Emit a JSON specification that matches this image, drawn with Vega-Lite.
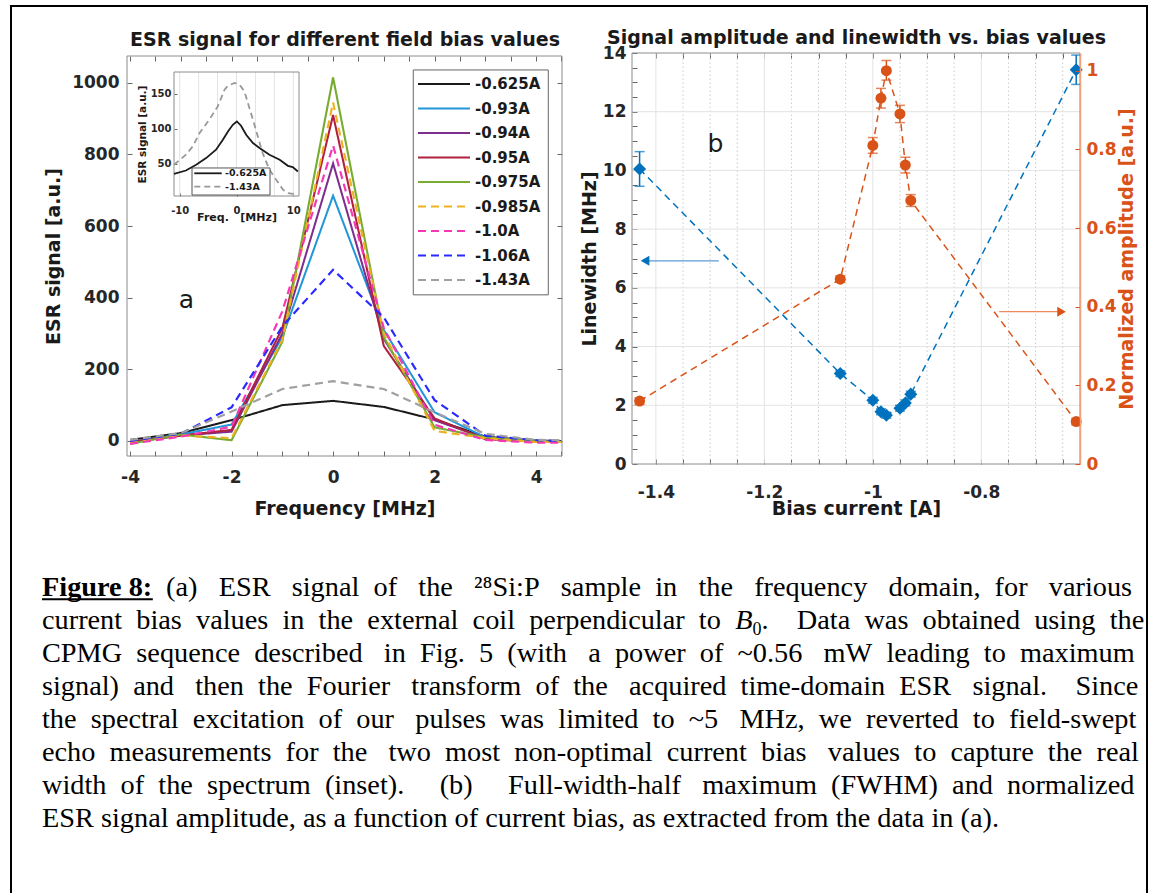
{
  "$schema": "https://vega.github.io/schema/vega-lite/v6.json",
  "width": 1151,
  "height": 893,
  "autosize": {"type": "none"},
  "padding": 0,
  "background": "white",
  "config": {
    "view": {"stroke": null},
    "axis": {
      "labelFont": "DejaVu Sans", "labelFontWeight": "bold", "labelFontSize": 17, "labelColor": "#262626",
      "titleFont": "DejaVu Sans", "titleFontWeight": "bold", "titleFontSize": 19, "titleColor": "#1a1a1a",
      "domain": false, "tickColor": "#666666", "tickSize": -5, "tickWidth": 1, "grid": false,
      "labelOverlap": false, "labelFlush": false, "labelBound": false
    }
  },
  "datasets": {
    "pb": [
      {"b": -1.43, "lw": 10.05, "lwlo": 9.46, "lwhi": 10.64, "amp": 0.16, "alo": 0.152, "ahi": 0.168},
      {"b": -1.06, "lw": 3.08, "lwlo": 2.98, "lwhi": 3.18, "amp": 0.47, "alo": 0.462, "ahi": 0.478},
      {"b": -1.0, "lw": 2.17, "lwlo": 2.07, "lwhi": 2.27, "amp": 0.81, "alo": 0.79, "ahi": 0.83},
      {"b": -0.985, "lw": 1.78, "lwlo": 1.68, "lwhi": 1.88, "amp": 0.93, "alo": 0.905, "ahi": 0.955},
      {"b": -0.975, "lw": 1.66, "lwlo": 1.56, "lwhi": 1.76, "amp": 1.0, "alo": 0.976, "ahi": 1.026},
      {"b": -0.95, "lw": 1.9, "lwlo": 1.8, "lwhi": 2.0, "amp": 0.89, "alo": 0.868, "ahi": 0.912},
      {"b": -0.94, "lw": 2.08, "lwlo": 1.98, "lwhi": 2.18, "amp": 0.76, "alo": 0.74, "ahi": 0.78},
      {"b": -0.93, "lw": 2.38, "lwlo": 2.28, "lwhi": 2.48, "amp": 0.67, "alo": 0.655, "ahi": 0.685},
      {"b": -0.625, "lw": 13.43, "lwlo": 12.93, "lwhi": 13.93, "amp": 0.108, "alo": 0.1, "ahi": 0.116}
    ],
    "one": [{}]
  },
  "resolve": {"scale": {"x": "independent", "y": "independent"}},
  "layer": [
    {
      "data": {"name": "one"},
      "mark": {"type": "rect", "filled": false, "stroke": "black", "strokeWidth": 2},
      "encoding": {
        "x": {"datum": 0, "type": "quantitative", "scale": {"domain": [0, 1], "range": [11, 1147]}, "axis": null},
        "x2": {"datum": 1},
        "y": {"datum": 0, "type": "quantitative", "scale": {"domain": [0, 1], "range": [6, 905]}, "axis": null},
        "y2": {"datum": 1}
      }
    },
    {
      "resolve": {"axis": {"x": "independent", "y": "independent"}},
      "layer": [
        {
          "data": {"values": [
            {"f": -4, "v": 3, "s": "-0.625A"}, {"f": -3, "v": 22, "s": "-0.625A"}, {"f": -2, "v": 58, "s": "-0.625A"}, {"f": -1, "v": 100, "s": "-0.625A"}, {"f": 0, "v": 112, "s": "-0.625A"}, {"f": 1, "v": 95, "s": "-0.625A"}, {"f": 2, "v": 60, "s": "-0.625A"}, {"f": 3, "v": 12, "s": "-0.625A"}, {"f": 4, "v": 1, "s": "-0.625A"}, {"f": 4.5, "v": 0, "s": "-0.625A"},
            {"f": -4, "v": -3, "s": "-0.93A"}, {"f": -3, "v": 18, "s": "-0.93A"}, {"f": -2, "v": 46, "s": "-0.93A"}, {"f": -1, "v": 290, "s": "-0.93A"}, {"f": 0, "v": 685, "s": "-0.93A"}, {"f": 1, "v": 310, "s": "-0.93A"}, {"f": 2, "v": 80, "s": "-0.93A"}, {"f": 3, "v": 10, "s": "-0.93A"}, {"f": 4, "v": 0, "s": "-0.93A"}, {"f": 4.5, "v": -2, "s": "-0.93A"},
            {"f": -4, "v": -3, "s": "-0.94A"}, {"f": -3, "v": 15, "s": "-0.94A"}, {"f": -2, "v": 26, "s": "-0.94A"}, {"f": -1, "v": 300, "s": "-0.94A"}, {"f": 0, "v": 775, "s": "-0.94A"}, {"f": 1, "v": 285, "s": "-0.94A"}, {"f": 2, "v": 58, "s": "-0.94A"}, {"f": 3, "v": 8, "s": "-0.94A"}, {"f": 4, "v": -2, "s": "-0.94A"}, {"f": 4.5, "v": -3, "s": "-0.94A"},
            {"f": -4, "v": -3, "s": "-0.95A"}, {"f": -3, "v": 15, "s": "-0.95A"}, {"f": -2, "v": 31, "s": "-0.95A"}, {"f": -1, "v": 315, "s": "-0.95A"}, {"f": 0, "v": 910, "s": "-0.95A"}, {"f": 1, "v": 265, "s": "-0.95A"}, {"f": 2, "v": 63, "s": "-0.95A"}, {"f": 3, "v": 5, "s": "-0.95A"}, {"f": 4, "v": -2, "s": "-0.95A"}, {"f": 4.5, "v": -3, "s": "-0.95A"},
            {"f": -4, "v": -8, "s": "-0.975A"}, {"f": -3, "v": 18, "s": "-0.975A"}, {"f": -2, "v": 2, "s": "-0.975A"}, {"f": -1, "v": 277, "s": "-0.975A"}, {"f": 0, "v": 1015, "s": "-0.975A"}, {"f": 1, "v": 290, "s": "-0.975A"}, {"f": 2, "v": 38, "s": "-0.975A"}, {"f": 3, "v": 10, "s": "-0.975A"}, {"f": 4, "v": -2, "s": "-0.975A"}, {"f": 4.5, "v": -3, "s": "-0.975A"},
            {"f": -4, "v": -5, "s": "-0.985A"}, {"f": -3, "v": 15, "s": "-0.985A"}, {"f": -2, "v": 8, "s": "-0.985A"}, {"f": -1, "v": 282, "s": "-0.985A"}, {"f": 0, "v": 945, "s": "-0.985A"}, {"f": 1, "v": 300, "s": "-0.985A"}, {"f": 2, "v": 28, "s": "-0.985A"}, {"f": 3, "v": 8, "s": "-0.985A"}, {"f": 4, "v": -3, "s": "-0.985A"}, {"f": 4.5, "v": -3, "s": "-0.985A"},
            {"f": -4, "v": -8, "s": "-1.0A"}, {"f": -3, "v": 12, "s": "-1.0A"}, {"f": -2, "v": 40, "s": "-1.0A"}, {"f": -1, "v": 362, "s": "-1.0A"}, {"f": 0, "v": 825, "s": "-1.0A"}, {"f": 1, "v": 315, "s": "-1.0A"}, {"f": 2, "v": 45, "s": "-1.0A"}, {"f": 3, "v": 3, "s": "-1.0A"}, {"f": 4, "v": -5, "s": "-1.0A"}, {"f": 4.5, "v": -5, "s": "-1.0A"},
            {"f": -4, "v": 0, "s": "-1.06A"}, {"f": -3, "v": 20, "s": "-1.06A"}, {"f": -2, "v": 94, "s": "-1.06A"}, {"f": -1, "v": 320, "s": "-1.06A"}, {"f": 0, "v": 478, "s": "-1.06A"}, {"f": 1, "v": 345, "s": "-1.06A"}, {"f": 2, "v": 114, "s": "-1.06A"}, {"f": 3, "v": 15, "s": "-1.06A"}, {"f": 4, "v": 2, "s": "-1.06A"}, {"f": 4.5, "v": 0, "s": "-1.06A"},
            {"f": -4, "v": 3, "s": "-1.43A"}, {"f": -3, "v": 22, "s": "-1.43A"}, {"f": -2, "v": 82, "s": "-1.43A"}, {"f": -1, "v": 145, "s": "-1.43A"}, {"f": 0, "v": 167, "s": "-1.43A"}, {"f": 1, "v": 145, "s": "-1.43A"}, {"f": 2, "v": 80, "s": "-1.43A"}, {"f": 3, "v": 20, "s": "-1.43A"}, {"f": 4, "v": 3, "s": "-1.43A"}, {"f": 4.5, "v": 2, "s": "-1.43A"}
          ]},
          "mark": {"type": "line"},
          "encoding": {
            "x": {"field": "f", "type": "quantitative",
              "scale": {"domain": [-4.06, 4.51], "range": [127, 562], "nice": false, "zero": false},
              "axis": {"orient": "bottom", "offset": -437, "values": [-4, -3.5, -3, -2.5, -2, -1.5, -1, -0.5, 0, 0.5, 1, 1.5, 2, 2.5, 3, 3.5, 4, 4.5],
                "labelExpr": "datum.value % 2 == 0 ? (datum.value < 0 ? '-' + abs(datum.value) : '' + datum.value) : ''",
                "labelPadding": 18, "title": "Frequency [MHz]", "titlePadding": 14}},
            "y": {"field": "v", "type": "quantitative",
              "scale": {"domain": [-42, 1075], "range": [456, 56], "nice": false, "zero": false},
              "axis": {"orient": "left", "offset": -127, "values": [0, 200, 400, 600, 800, 1000], "labelExpr": "'' + datum.value",
                "labelPadding": 13, "title": "ESR signal [a.u.]", "titlePadding": 8}},
            "color": {"field": "s", "type": "nominal", "legend": null,
              "scale": {"domain": ["-0.625A", "-0.93A", "-0.94A", "-0.95A", "-0.975A", "-0.985A", "-1.0A", "-1.06A", "-1.43A"],
                "range": ["#1a1a1a", "#2196d8", "#7e2f8e", "#b0213f", "#77ac30", "#edb120", "#f536b5", "#2a2aff", "#a0a0a0"]}},
            "strokeDash": {"field": "s", "type": "nominal", "legend": null,
              "scale": {"domain": ["-0.625A", "-0.93A", "-0.94A", "-0.95A", "-0.975A", "-0.985A", "-1.0A", "-1.06A", "-1.43A"],
                "range": [[1, 0], [1, 0], [1, 0], [1, 0], [1, 0], [8, 5], [8, 5], [8, 5], [8, 5]]}},
            "strokeWidth": {"field": "s", "type": "nominal", "legend": null,
              "scale": {"domain": ["-0.625A", "-0.93A", "-0.94A", "-0.95A", "-0.975A", "-0.985A", "-1.0A", "-1.06A", "-1.43A"],
                "range": [2, 2.2, 1.8, 2.2, 4, 2.2, 2.2, 2.2, 2.2]}}
          }
        },
        {
          "data": {"name": "one"},
          "mark": {"type": "rect", "filled": false, "stroke": "#8c8c8c", "strokeWidth": 1},
          "encoding": {
            "x": {"datum": -4.06, "type": "quantitative",
              "axis": {"orient": "top", "offset": -56, "values": [-4, -3.5, -3, -2.5, -2, -1.5, -1, -0.5, 0, 0.5, 1, 1.5, 2, 2.5, 3, 3.5, 4, 4.5],
                "labels": false, "title": "ESR signal for different field bias values", "titlePadding": 6}},
            "x2": {"datum": 4.51},
            "y": {"datum": -42, "type": "quantitative",
              "axis": {"orient": "right", "offset": -589, "values": [0, 200, 400, 600, 800, 1000], "labels": false, "title": null}},
            "y2": {"datum": 1075}
          }
        },
        {
          "data": {"name": "one"},
          "mark": {"type": "rect", "fill": "white", "stroke": "#666666", "strokeWidth": 1},
          "encoding": {
            "x": {"datum": 1.58, "type": "quantitative", "axis": null},
            "x2": {"datum": 4.24},
            "y": {"datum": 408, "type": "quantitative", "axis": null},
            "y2": {"datum": 1036}
          }
        },
        {
          "data": {"name": "one"},
          "mark": {"type": "text", "text": "a", "font": "DejaVu Sans", "fontSize": 25, "color": "#1a1a1a", "baseline": "middle", "align": "center"},
          "encoding": {
            "x": {"datum": -2.89, "type": "quantitative", "axis": null},
            "y": {"datum": 394, "type": "quantitative", "axis": null}
          }
        }
      ]
    },
    {
      "resolve": {"axis": {"x": "independent", "y": "independent"}},
      "layer": [
        {
          "data": {"values": [{"g": -10}, {"g": -6.667}, {"g": -3.333}, {"g": 0}, {"g": 3.333}, {"g": 6.667}, {"g": 10}]},
          "mark": {"type": "rule", "color": "#e3e3e3", "strokeWidth": 1},
          "encoding": {
            "x": {"field": "g", "type": "quantitative",
              "scale": {"domain": [-11, 11], "range": [174, 299], "nice": false, "zero": false},
              "axis": {"orient": "bottom", "offset": -697, "values": [-10, 0, 10],
                "labelExpr": "datum.value < 0 ? '-' + abs(datum.value) : '' + datum.value",
                "labelFontSize": 10, "tickSize": -3, "labelPadding": 12,
                "title": "Freq.\u00a0\u00a0\u00a0[MHz]", "titleFontSize": 11, "titlePadding": -4}},
            "y": {"datum": 4, "type": "quantitative",
              "scale": {"domain": [4, 181], "range": [196, 72], "nice": false, "zero": false},
              "axis": {"orient": "left", "offset": -174, "values": [50, 100, 150], "labelExpr": "'' + datum.value",
                "labelFontSize": 10, "tickSize": -3, "labelPadding": 6,
                "title": "ESR signal [a.u.]", "titleFontSize": 10.5, "titlePadding": 3}},
            "y2": {"datum": 181}
          }
        },
        {
          "data": {"name": "one"},
          "mark": {"type": "rect", "filled": false, "stroke": "#8c8c8c", "strokeWidth": 1},
          "encoding": {
            "x": {"datum": -11, "type": "quantitative", "axis": null},
            "x2": {"datum": 11},
            "y": {"datum": 4, "type": "quantitative", "axis": null},
            "y2": {"datum": 181}
          }
        },
        {
          "data": {"values": [
            {"x": -11, "y": 35.7}, {"x": -8.9, "y": 40.4}, {"x": -7.1, "y": 48.6}, {"x": -5.35, "y": 58.1}, {"x": -3.6, "y": 70}, {"x": -2.4, "y": 84.3}, {"x": -1.5, "y": 96.2}, {"x": -0.65, "y": 105.7}, {"x": 0.06, "y": 110.4}, {"x": 0.8, "y": 104.3}, {"x": 1.7, "y": 91.4}, {"x": 2.9, "y": 79.6}, {"x": 4.05, "y": 72.4}, {"x": 5.8, "y": 62.9}, {"x": 7.6, "y": 55.7}, {"x": 9.05, "y": 47.1}, {"x": 9.9, "y": 45.2}, {"x": 10.8, "y": 39}
          ]},
          "mark": {"type": "line", "color": "#1a1a1a", "strokeWidth": 1.8},
          "encoding": {
            "x": {"field": "x", "type": "quantitative", "axis": null},
            "y": {"field": "y", "type": "quantitative", "axis": null}
          }
        },
        {
          "data": {"values": [
            {"x": -11, "y": 48.6}, {"x": -8.9, "y": 62.9}, {"x": -7.7, "y": 74.8}, {"x": -6.5, "y": 93.8}, {"x": -4.8, "y": 112.9}, {"x": -3.3, "y": 131.9}, {"x": -2.1, "y": 155.7}, {"x": -1.5, "y": 161.4}, {"x": -0.35, "y": 165.3}, {"x": 0.53, "y": 162.9}, {"x": 1.4, "y": 153.3}, {"x": 2.0, "y": 136.7}, {"x": 2.9, "y": 112.9}, {"x": 3.75, "y": 89}, {"x": 4.6, "y": 65.3}, {"x": 5.8, "y": 41.4}, {"x": 7.0, "y": 27}, {"x": 8.2, "y": 12.9}, {"x": 9.05, "y": 8}, {"x": 9.9, "y": 7}, {"x": 10.6, "y": 8}
          ]},
          "mark": {"type": "line", "color": "#999999", "strokeWidth": 1.8, "strokeDash": [6, 4]},
          "encoding": {
            "x": {"field": "x", "type": "quantitative", "axis": null},
            "y": {"field": "y", "type": "quantitative", "axis": null}
          }
        },
        {
          "data": {"name": "one"},
          "mark": {"type": "rect", "fill": "white", "stroke": "#555555", "strokeWidth": 1},
          "encoding": {
            "x": {"datum": -7.83, "type": "quantitative", "axis": null},
            "x2": {"datum": 5.9},
            "y": {"datum": 5.4, "type": "quantitative", "axis": null},
            "y2": {"datum": 44}
          }
        },
        {
          "data": {"name": "one"},
          "mark": {"type": "rule", "color": "#1a1a1a", "strokeWidth": 1.8},
          "encoding": {
            "x": {"datum": -7.43, "type": "quantitative", "axis": null},
            "x2": {"datum": -2.6},
            "y": {"datum": 36.4, "type": "quantitative", "axis": null}
          }
        },
        {
          "data": {"name": "one"},
          "mark": {"type": "rule", "color": "#999999", "strokeWidth": 1.8, "strokeDash": [6, 4]},
          "encoding": {
            "x": {"datum": -7.43, "type": "quantitative", "axis": null},
            "x2": {"datum": -2.6},
            "y": {"datum": 17.3, "type": "quantitative", "axis": null}
          }
        },
        {
          "data": {"name": "one"},
          "mark": {"type": "text", "text": "-0.625A", "align": "left", "baseline": "middle", "font": "DejaVu Sans", "fontWeight": "bold", "fontSize": 9.5, "color": "#1a1a1a"},
          "encoding": {
            "x": {"datum": -2.02, "type": "quantitative", "axis": null},
            "y": {"datum": 36.4, "type": "quantitative", "axis": null}
          }
        },
        {
          "data": {"name": "one"},
          "mark": {"type": "text", "text": "-1.43A", "align": "left", "baseline": "middle", "font": "DejaVu Sans", "fontWeight": "bold", "fontSize": 9.5, "color": "#1a1a1a"},
          "encoding": {
            "x": {"datum": -2.02, "type": "quantitative", "axis": null},
            "y": {"datum": 17.3, "type": "quantitative", "axis": null}
          }
        }
      ]
    },
    {
      "data": {"values": [{"s": "-0.625A"}, {"s": "-0.93A"}, {"s": "-0.94A"}, {"s": "-0.95A"}, {"s": "-0.975A"}, {"s": "-0.985A"}, {"s": "-1.0A"}, {"s": "-1.06A"}, {"s": "-1.43A"}]},
      "layer": [
        {
          "mark": {"type": "rule"},
          "encoding": {
            "x": {"datum": 0, "type": "quantitative", "scale": {"domain": [0, 1], "range": [418, 470]}, "axis": null},
            "x2": {"datum": 1},
            "y": {"field": "s", "type": "nominal", "axis": null,
              "scale": {"type": "point", "domain": ["-0.625A", "-0.93A", "-0.94A", "-0.95A", "-0.975A", "-0.985A", "-1.0A", "-1.06A", "-1.43A"], "range": [84, 280], "padding": 0}},
            "color": {"field": "s", "type": "nominal", "legend": null,
              "scale": {"domain": ["-0.625A", "-0.93A", "-0.94A", "-0.95A", "-0.975A", "-0.985A", "-1.0A", "-1.06A", "-1.43A"],
                "range": ["#1a1a1a", "#2196d8", "#7e2f8e", "#b0213f", "#77ac30", "#edb120", "#f536b5", "#2a2aff", "#a0a0a0"]}},
            "strokeDash": {"field": "s", "type": "nominal", "legend": null,
              "scale": {"domain": ["-0.625A", "-0.93A", "-0.94A", "-0.95A", "-0.975A", "-0.985A", "-1.0A", "-1.06A", "-1.43A"],
                "range": [[1, 0], [1, 0], [1, 0], [1, 0], [1, 0], [8, 5], [8, 5], [8, 5], [8, 5]]}},
            "strokeWidth": {"field": "s", "type": "nominal", "legend": null,
              "scale": {"domain": ["-0.625A", "-0.93A", "-0.94A", "-0.95A", "-0.975A", "-0.985A", "-1.0A", "-1.06A", "-1.43A"],
                "range": [2, 2.2, 1.8, 2.2, 4, 2.2, 2.2, 2.2, 2.2]}}
          }
        },
        {
          "mark": {"type": "text", "align": "left", "baseline": "middle", "dx": 5, "font": "DejaVu Sans", "fontWeight": "bold", "fontSize": 15, "color": "#1a1a1a"},
          "encoding": {
            "x": {"datum": 1, "type": "quantitative", "axis": null},
            "y": {"field": "s", "type": "nominal", "axis": null},
            "text": {"field": "s", "type": "nominal"}
          }
        }
      ]
    },
    {
      "resolve": {"scale": {"y": "independent"}, "axis": {"x": "independent", "y": "independent"}},
      "layer": [
        {
          "data": {"values": [{"g": -1.35}, {"g": -1.3}, {"g": -1.25}, {"g": -1.15}, {"g": -1.1}, {"g": -1.05}, {"g": -0.95}, {"g": -0.9}, {"g": -0.85}, {"g": -0.75}, {"g": -0.7}, {"g": -0.65}]},
          "mark": {"type": "rule", "color": "#cccccc", "strokeWidth": 1, "strokeDash": [1.5, 2.5]},
          "encoding": {
            "x": {"field": "g", "type": "quantitative", "scale": {"domain": [-1.444, -0.618], "range": [632, 1080], "nice": false, "zero": false}, "axis": null},
            "y": {"datum": 0, "type": "quantitative", "scale": {"domain": [0, 14], "range": [464, 53], "nice": false, "zero": false}, "axis": null},
            "y2": {"datum": 14}
          }
        },
        {
          "data": {"values": [{"g": -1.4}, {"g": -1.2}, {"g": -1}, {"g": -0.8}]},
          "mark": {"type": "rule", "color": "#e3e3e3", "strokeWidth": 1},
          "encoding": {
            "x": {"field": "g", "type": "quantitative", "axis": null},
            "y": {"datum": 0, "type": "quantitative", "scale": {"domain": [0, 14], "range": [464, 53], "nice": false, "zero": false}, "axis": null},
            "y2": {"datum": 14}
          }
        },
        {
          "data": {"values": [{"h": 2}, {"h": 4}, {"h": 6}, {"h": 8}, {"h": 10}, {"h": 12}]},
          "mark": {"type": "rule", "color": "#e3e3e3", "strokeWidth": 1},
          "encoding": {
            "y": {"field": "h", "type": "quantitative", "scale": {"domain": [0, 14], "range": [464, 53], "nice": false, "zero": false}, "axis": null},
            "x": {"datum": -1.444, "type": "quantitative", "axis": null},
            "x2": {"datum": -0.618}
          }
        },
        {
          "data": {"name": "one"},
          "mark": {"type": "rect", "filled": false, "stroke": "#8c8c8c", "strokeWidth": 1},
          "encoding": {
            "x": {"datum": -1.444, "type": "quantitative",
              "axis": {"orient": "top", "offset": -53, "values": [-1.4, -1.35, -1.3, -1.25, -1.2, -1.15, -1.1, -1.05, -1, -0.95, -0.9, -0.85, -0.8, -0.75, -0.7, -0.65],
                "labels": false, "title": "Signal amplitude and linewidth vs. bias values", "titlePadding": 5}},
            "x2": {"datum": -0.618},
            "y": {"datum": 0, "type": "quantitative", "scale": {"domain": [0, 14], "range": [464, 53], "nice": false, "zero": false},
              "axis": {"orient": "left", "offset": -632, "values": [0, 0.5, 1, 1.5, 2, 2.5, 3, 3.5, 4, 4.5, 5, 5.5, 6, 6.5, 7, 7.5, 8, 8.5, 9, 9.5, 10, 10.5, 11, 11.5, 12, 12.5, 13, 13.5, 14],
                "labelExpr": "datum.value % 2 == 0 ? '' + datum.value : ''", "labelPadding": 11, "title": "Linewidth [MHz]", "titlePadding": 3}},
            "y2": {"datum": 14}
          }
        },
        {
          "data": {"name": "pb"},
          "mark": {"type": "line", "color": "#0072bd", "strokeWidth": 1.5, "strokeDash": [7, 5]},
          "encoding": {
            "x": {"field": "b", "type": "quantitative",
              "axis": {"orient": "bottom", "offset": -429, "values": [-1.4, -1.35, -1.3, -1.25, -1.2, -1.15, -1.1, -1.05, -1, -0.95, -0.9, -0.85, -0.8, -0.75, -0.7, -0.65],
                "labelExpr": "abs(datum.value + 1.4) < 0.001 ? '-1.4' : abs(datum.value + 1.2) < 0.001 ? '-1.2' : abs(datum.value + 1) < 0.001 ? '-1' : abs(datum.value + 0.8) < 0.001 ? '-0.8' : ''",
                "labelPadding": 25, "title": "Bias current [A]", "titlePadding": -1}},
            "y": {"field": "lw", "type": "quantitative", "scale": {"domain": [0, 14], "range": [464, 53], "nice": false, "zero": false}, "axis": null}
          }
        },
        {
          "data": {"name": "pb"},
          "mark": {"type": "rule", "color": "#0072bd", "strokeWidth": 1.5},
          "encoding": {
            "x": {"field": "b", "type": "quantitative", "axis": null},
            "y": {"field": "lwlo", "type": "quantitative", "scale": {"domain": [0, 14], "range": [464, 53], "nice": false, "zero": false}, "axis": null},
            "y2": {"field": "lwhi"}
          }
        },
        {
          "data": {"name": "pb"},
          "mark": {"type": "tick", "orient": "horizontal", "color": "#0072bd", "size": 10, "thickness": 1.5},
          "encoding": {
            "x": {"field": "b", "type": "quantitative", "axis": null},
            "y": {"field": "lwlo", "type": "quantitative", "scale": {"domain": [0, 14], "range": [464, 53], "nice": false, "zero": false}, "axis": null}
          }
        },
        {
          "data": {"name": "pb"},
          "mark": {"type": "tick", "orient": "horizontal", "color": "#0072bd", "size": 10, "thickness": 1.5},
          "encoding": {
            "x": {"field": "b", "type": "quantitative", "axis": null},
            "y": {"field": "lwhi", "type": "quantitative", "scale": {"domain": [0, 14], "range": [464, 53], "nice": false, "zero": false}, "axis": null}
          }
        },
        {
          "data": {"name": "pb"},
          "mark": {"type": "point", "shape": "diamond", "filled": true, "color": "#0072bd", "size": 170, "opacity": 1},
          "encoding": {
            "x": {"field": "b", "type": "quantitative", "axis": null},
            "y": {"field": "lw", "type": "quantitative", "scale": {"domain": [0, 14], "range": [464, 53], "nice": false, "zero": false}, "axis": null}
          }
        },
        {
          "data": {"name": "pb"},
          "mark": {"type": "line", "color": "#d95319", "strokeWidth": 1.5, "strokeDash": [7, 5]},
          "encoding": {
            "x": {"field": "b", "type": "quantitative", "axis": null},
            "y": {"field": "amp", "type": "quantitative", "scale": {"domain": [0, 1.045], "range": [464, 53], "nice": false, "zero": false},
              "axis": {"orient": "right", "offset": -71, "values": [0, 0.2, 0.4, 0.6, 0.8, 1], "labelExpr": "format(datum.value, '~g')",
                "labelColor": "#d95319", "tickColor": "#d95319", "domain": true, "domainColor": "#f2a37c", "domainWidth": 1.5,
                "labelPadding": 11, "title": "Normalized amplitude [a.u.]", "titleColor": "#d95319", "titlePadding": 1,
                "titleAngle": 270, "titleBaseline": "top", "zindex": 1}}
          }
        },
        {
          "data": {"name": "pb"},
          "mark": {"type": "rule", "color": "#d95319", "strokeWidth": 1.5},
          "encoding": {
            "x": {"field": "b", "type": "quantitative", "axis": null},
            "y": {"field": "alo", "type": "quantitative", "scale": {"domain": [0, 1.045], "range": [464, 53], "nice": false, "zero": false}, "axis": null},
            "y2": {"field": "ahi"}
          }
        },
        {
          "data": {"name": "pb"},
          "mark": {"type": "tick", "orient": "horizontal", "color": "#d95319", "size": 10, "thickness": 1.5},
          "encoding": {
            "x": {"field": "b", "type": "quantitative", "axis": null},
            "y": {"field": "alo", "type": "quantitative", "scale": {"domain": [0, 1.045], "range": [464, 53], "nice": false, "zero": false}, "axis": null}
          }
        },
        {
          "data": {"name": "pb"},
          "mark": {"type": "tick", "orient": "horizontal", "color": "#d95319", "size": 10, "thickness": 1.5},
          "encoding": {
            "x": {"field": "b", "type": "quantitative", "axis": null},
            "y": {"field": "ahi", "type": "quantitative", "scale": {"domain": [0, 1.045], "range": [464, 53], "nice": false, "zero": false}, "axis": null}
          }
        },
        {
          "data": {"name": "pb"},
          "mark": {"type": "point", "shape": "circle", "filled": true, "color": "#d95319", "size": 120, "opacity": 1},
          "encoding": {
            "x": {"field": "b", "type": "quantitative", "axis": null},
            "y": {"field": "amp", "type": "quantitative", "scale": {"domain": [0, 1.045], "range": [464, 53], "nice": false, "zero": false}, "axis": null}
          }
        },
        {
          "data": {"name": "one"},
          "mark": {"type": "rule", "color": "#5b9bd5", "strokeWidth": 1.2},
          "encoding": {
            "x": {"datum": -1.284, "type": "quantitative", "axis": null},
            "x2": {"datum": -1.42},
            "y": {"datum": 6.92, "type": "quantitative", "scale": {"domain": [0, 14], "range": [464, 53], "nice": false, "zero": false}, "axis": null}
          }
        },
        {
          "data": {"name": "one"},
          "mark": {"type": "point", "shape": "triangle-left", "filled": true, "color": "#0072bd", "size": 100, "opacity": 1},
          "encoding": {
            "x": {"datum": -1.42, "type": "quantitative", "axis": null},
            "y": {"datum": 6.92, "type": "quantitative", "scale": {"domain": [0, 14], "range": [464, 53], "nice": false, "zero": false}, "axis": null}
          }
        },
        {
          "data": {"name": "one"},
          "mark": {"type": "rule", "color": "#f08a5d", "strokeWidth": 1.2},
          "encoding": {
            "x": {"datum": -0.767, "type": "quantitative", "axis": null},
            "x2": {"datum": -0.652},
            "y": {"datum": 5.19, "type": "quantitative", "scale": {"domain": [0, 14], "range": [464, 53], "nice": false, "zero": false}, "axis": null}
          }
        },
        {
          "data": {"name": "one"},
          "mark": {"type": "point", "shape": "triangle-right", "filled": true, "color": "#d95319", "size": 100, "opacity": 1},
          "encoding": {
            "x": {"datum": -0.652, "type": "quantitative", "axis": null},
            "y": {"datum": 5.19, "type": "quantitative", "scale": {"domain": [0, 14], "range": [464, 53], "nice": false, "zero": false}, "axis": null}
          }
        },
        {
          "data": {"name": "one"},
          "mark": {"type": "text", "text": "b", "font": "DejaVu Sans", "fontSize": 25, "color": "#1a1a1a", "baseline": "middle", "align": "center"},
          "encoding": {
            "x": {"datum": -1.29, "type": "quantitative", "axis": null},
            "y": {"datum": 10.9, "type": "quantitative", "scale": {"domain": [0, 14], "range": [464, 53], "nice": false, "zero": false}, "axis": null}
          }
        }
      ]
    },
    {
      "layer": [
        {
          "data": {"values": [
            {"line": 2, "text": "current\u00a0\u00a0bias\u00a0\u00a0values\u00a0\u00a0in\u00a0\u00a0the\u00a0\u00a0external\u00a0\u00a0coil\u00a0\u00a0perpendicular\u00a0\u00a0to"},
            {"line": 3, "text": "CPMG\u00a0\u00a0sequence\u00a0\u00a0described\u00a0\u00a0\u00a0in\u00a0\u00a0Fig.\u00a0\u00a05\u00a0\u00a0(with\u00a0\u00a0\u00a0a\u00a0\u00a0power\u00a0\u00a0of\u00a0\u00a0~0.56\u00a0\u00a0\u00a0mW\u00a0\u00a0leading\u00a0\u00a0to\u00a0\u00a0maximum"},
            {"line": 4, "text": "signal)\u00a0\u00a0and\u00a0\u00a0\u00a0then\u00a0\u00a0the\u00a0\u00a0Fourier\u00a0\u00a0\u00a0transform\u00a0\u00a0of\u00a0\u00a0the\u00a0\u00a0\u00a0acquired\u00a0\u00a0time-domain\u00a0\u00a0ESR\u00a0\u00a0\u00a0signal.\u00a0\u00a0\u00a0\u00a0Since"},
            {"line": 5, "text": "the\u00a0\u00a0spectral\u00a0\u00a0excitation\u00a0\u00a0of\u00a0\u00a0our\u00a0\u00a0\u00a0pulses\u00a0\u00a0was\u00a0\u00a0limited\u00a0\u00a0to\u00a0\u00a0~5\u00a0\u00a0\u00a0MHz,\u00a0\u00a0we\u00a0\u00a0reverted\u00a0\u00a0to\u00a0\u00a0field-swept"},
            {"line": 6, "text": "echo\u00a0\u00a0measurements\u00a0\u00a0for\u00a0\u00a0the\u00a0\u00a0\u00a0two\u00a0\u00a0most\u00a0\u00a0non-optimal\u00a0\u00a0current\u00a0\u00a0bias\u00a0\u00a0\u00a0values\u00a0\u00a0to\u00a0\u00a0capture\u00a0\u00a0the\u00a0\u00a0real"},
            {"line": 7, "text": "width\u00a0\u00a0of\u00a0\u00a0the\u00a0\u00a0spectrum\u00a0\u00a0(inset).\u00a0\u00a0\u00a0\u00a0\u00a0(b)\u00a0\u00a0\u00a0\u00a0\u00a0Full-width-half\u00a0\u00a0\u00a0maximum\u00a0\u00a0(FWHM)\u00a0\u00a0and\u00a0\u00a0normalized"},
            {"line": 8, "text": "ESR signal amplitude, as a function of current bias, as extracted from the data in (a)."}
          ]},
          "mark": {"type": "text", "align": "left", "baseline": "alphabetic", "font": "Liberation Serif", "fontSize": 28.3, "color": "black"},
          "encoding": {
            "x": {"datum": 0, "type": "quantitative", "scale": {"domain": [0, 1], "range": [42, 1137]}, "axis": null},
            "y": {"field": "line", "type": "quantitative", "scale": {"domain": [1, 8], "range": [596, 827], "nice": false, "zero": false}, "axis": null},
            "text": {"field": "text", "type": "nominal"}
          }
        },
        {
          "data": {"values": [{"line": 1, "text": "Figure\u00a08:"}]},
          "mark": {"type": "text", "align": "left", "baseline": "alphabetic", "font": "Liberation Serif", "fontSize": 28.3, "fontWeight": "bold", "color": "black"},
          "encoding": {
            "x": {"datum": 0, "type": "quantitative", "axis": null},
            "y": {"field": "line", "type": "quantitative", "axis": null},
            "text": {"field": "text", "type": "nominal"}
          }
        },
        {
          "data": {"values": [{"line": 1, "text": "(a)\u00a0\u00a0\u00a0ESR\u00a0\u00a0\u00a0signal\u00a0\u00a0of\u00a0\u00a0\u00a0the\u00a0\u00a0\u00a0\u00b2\u2078Si:P\u00a0\u00a0\u00a0sample\u00a0\u00a0in\u00a0\u00a0\u00a0the\u00a0\u00a0\u00a0frequency\u00a0\u00a0\u00a0domain,\u00a0\u00a0for\u00a0\u00a0\u00a0various"}]},
          "mark": {"type": "text", "align": "left", "baseline": "alphabetic", "font": "Liberation Serif", "fontSize": 28.3, "color": "black", "dx": 124},
          "encoding": {
            "x": {"datum": 0, "type": "quantitative", "axis": null},
            "y": {"field": "line", "type": "quantitative", "axis": null},
            "text": {"field": "text", "type": "nominal"}
          }
        },
        {
          "data": {"values": [{"line": 2, "text": "B"}]},
          "mark": {"type": "text", "align": "left", "baseline": "alphabetic", "font": "Liberation Serif", "fontSize": 28.3, "fontStyle": "italic", "color": "black", "dx": 693.2},
          "encoding": {
            "x": {"datum": 0, "type": "quantitative", "axis": null},
            "y": {"field": "line", "type": "quantitative", "axis": null},
            "text": {"field": "text", "type": "nominal"}
          }
        },
        {
          "data": {"values": [{"line": 2, "text": "0"}]},
          "mark": {"type": "text", "align": "left", "baseline": "alphabetic", "font": "Liberation Serif", "fontSize": 18, "color": "black", "dx": 710.5, "dy": 6},
          "encoding": {
            "x": {"datum": 0, "type": "quantitative", "axis": null},
            "y": {"field": "line", "type": "quantitative", "axis": null},
            "text": {"field": "text", "type": "nominal"}
          }
        },
        {
          "data": {"values": [{"line": 2, "text": ".\u00a0\u00a0\u00a0\u00a0Data\u00a0\u00a0was\u00a0\u00a0obtained\u00a0\u00a0using\u00a0\u00a0the"}]},
          "mark": {"type": "text", "align": "left", "baseline": "alphabetic", "font": "Liberation Serif", "fontSize": 28.3, "color": "black", "dx": 719.5},
          "encoding": {
            "x": {"datum": 0, "type": "quantitative", "axis": null},
            "y": {"field": "line", "type": "quantitative", "axis": null},
            "text": {"field": "text", "type": "nominal"}
          }
        },
        {
          "data": {"name": "one"},
          "mark": {"type": "rule", "color": "black", "strokeWidth": 2},
          "encoding": {
            "x": {"datum": 0, "type": "quantitative", "axis": null},
            "x2": {"datum": 0.1012},
            "y": {"datum": 1.1, "type": "quantitative", "axis": null}
          }
        }
      ]
    }
  ]
}
